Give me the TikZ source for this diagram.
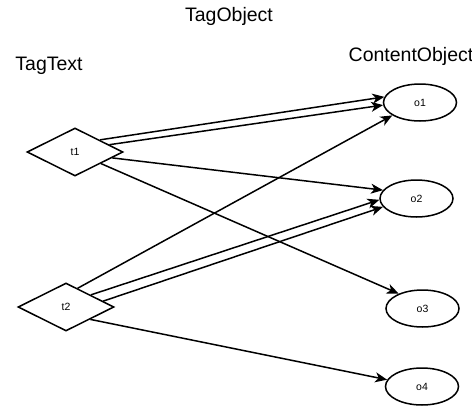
\documentclass[tikz,border=0pt]{standalone}
\usepackage{fontspec}
\setmainfont{Liberation Sans}
\usetikzlibrary{shapes.geometric,arrows.meta}

\begin{document}
\begin{tikzpicture}[x=1pt,y=-1pt,
  tagnode/.style={draw,diamond,line width=1.5pt,minimum width=96pt,minimum height=48pt,inner sep=0pt,font=\fontsize{10.5}{12}\selectfont},
  objnode/.style={draw,ellipse,line width=1.5pt,minimum width=73pt,minimum height=37pt,inner sep=0pt,font=\fontsize{10.5}{12}\selectfont},
  link/.style={-{Stealth[length=12pt,width=10pt,inset=3.5pt]},line width=1.5pt},
  heading/.style={anchor=base,inner sep=0pt,font=\fontsize{19.5}{22}\selectfont}]
  \useasboundingbox (0,0) rectangle (472,407);
  % Column headings
  \node[heading] (hobj) at (229,21) {TagObject};
  \node[heading] (htext) at (49,70) {TagText};
  \node[heading] (hcont) at (411,61.7) {ContentObject};

  % Tags
  \node[tagnode] (t1) at (75,152) {t1};
  \node[tagnode] (t2) at (66,307) {t2};

  % Content objects
  \node[objnode] (o1) at (420,102.5) {o1};
  \node[objnode] (o2) at (416.5,198.5) {o2};
  \node[objnode] (o3) at (422.5,308.5) {o3};
  \node[objnode] (o4) at (422,386.5) {o4};

  % Links from t1
  \draw[link] (t1.26) -- (o1.171);
  \draw[link] (t1.12) -- (o1.184);
  \draw[link] (t1.-9) -- (o2.166);
  \draw[link] (t1.-24) -- (o3.148);

  % Links from t2
  \draw[link] (t2.58) -- (o1.205);
  \draw[link] (t2.26) -- (o2.182);
  \draw[link] (t2.9) -- (o2.194);
  \draw[link] (t2.-27) -- (o4.169);
\end{tikzpicture}
\end{document}
